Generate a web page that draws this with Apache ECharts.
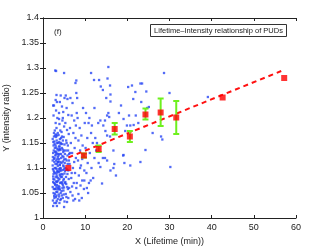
<!DOCTYPE html>
<html><head><meta charset="utf-8">
<script src="https://cdn.jsdelivr.net/npm/echarts@6/dist/echarts.min.js"></script>
<style>html,body{margin:0;padding:0;background:#fff}#c{width:327px;height:246px}</style>
</head><body><div id="c"></div>
<script>
var xTicks = [0,10,20,30,40,50,60];
var yTicks = [1,1.05,1.1,1.15,1.2,1.25,1.3,1.35,1.4];
var scatterPts = [
[2.4,1.024],[2.5,1.05],[2.3,1.062],[2.6,1.07],[2.4,1.083],[2.5,1.095],[2.3,1.105],[2.6,1.118],[2.4,1.13],[2.5,1.145],[2.3,1.158],[2.6,1.17],[2.4,1.225],[2.7,1.04],[2.8,1.058],[2.7,1.077],[2.9,1.09],[2.8,1.1],[2.7,1.112],[2.9,1.125],[2.8,1.14],[2.7,1.153],[2.9,1.165],[2.8,1.175],[2.9,1.295],[2.6,1.225],[2.5,1.205],[2.7,1.03],[2.9,1.066],[2.5,1.088],[2.3,1.115],[2.8,1.048],[2.6,1.163],[2.4,1.072],
[3.1,1.294],[3.2,1.246],[3.0,1.236],[3.3,1.232],[3.1,1.215],[3.4,1.2],[3.0,1.19],[3.2,1.18],[3.5,1.17],[3.1,1.162],[3.3,1.15],[3.0,1.145],[3.4,1.138],[3.2,1.13],[3.5,1.122],[3.1,1.115],[3.3,1.108],[3.0,1.1],[3.4,1.094],[3.2,1.087],[3.5,1.08],[3.1,1.073],[3.3,1.066],[3.0,1.058],[3.4,1.052],[3.2,1.045],[3.5,1.038],[3.1,1.03],[3.3,1.024],[3.6,1.112],[3.6,1.06],[3.6,1.15],[3.2,1.098],[3.4,1.118],[3.0,1.082],[3.3,1.091],[3.5,1.104],[3.1,1.127],[3.4,1.073],[3.2,1.062],
[3.8,1.21],[3.9,1.188],[4.1,1.175],[3.7,1.166],[4.0,1.158],[4.2,1.15],[3.8,1.143],[4.1,1.136],[3.9,1.128],[4.3,1.12],[3.7,1.113],[4.0,1.106],[4.2,1.099],[3.8,1.092],[4.1,1.085],[3.9,1.078],[4.3,1.071],[3.7,1.064],[4.0,1.057],[4.2,1.05],[3.8,1.043],[4.1,1.036],[3.9,1.03],[4.0,1.232],[4.2,1.245],[3.8,1.198],[4.3,1.16],[3.7,1.125],[4.1,1.1],[3.9,1.062],[4.2,1.082],[3.8,1.118],[4.0,1.138],[4.3,1.095],
[4.5,1.223],[4.8,1.212],[4.6,1.195],[5.0,1.183],[4.4,1.172],[4.9,1.162],[4.7,1.155],[5.1,1.147],[4.5,1.14],[4.8,1.132],[4.6,1.124],[5.0,1.117],[4.4,1.11],[4.9,1.103],[4.7,1.096],[5.1,1.089],[4.5,1.082],[4.8,1.075],[4.6,1.068],[5.0,1.061],[4.4,1.054],[4.9,1.047],[4.7,1.04],[5.1,1.033],[5.0,1.022],[5.0,1.29],[4.6,1.06],[4.8,1.105],[5.2,1.128],[4.4,1.088],[4.5,1.163],[5.2,1.07],[4.7,1.2],[5.1,1.24],
[5.4,1.245],[5.8,1.238],[5.6,1.22],[6.0,1.206],[5.3,1.19],[5.7,1.176],[6.1,1.168],[5.5,1.155],[5.9,1.145],[5.4,1.135],[6.2,1.128],[5.6,1.115],[5.3,1.1],[5.8,1.088],[6.1,1.078],[5.5,1.068],[5.9,1.058],[5.4,1.048],[6.0,1.04],[5.7,1.032],[5.6,1.15],[6.2,1.06],[5.3,1.072],[5.8,1.125],[6.0,1.095],
[6.5,1.24],[7.0,1.23],[6.8,1.205],[7.4,1.195],[6.4,1.18],[7.2,1.17],[7.7,1.16],[6.6,1.15],[7.5,1.14],[6.9,1.13],[7.8,1.12],[6.3,1.108],[7.1,1.1],[7.6,1.09],[6.7,1.08],[7.3,1.07],[7.9,1.06],[6.5,1.052],[7.0,1.045],[7.6,1.038],[6.8,1.09],[7.4,1.112],[7.9,1.275],[7.7,1.27],[7.9,1.25],[6.9,1.063],[7.2,1.035],[6.4,1.13],[7.8,1.185],[8.0,1.21],
[8.2,1.2],[8.7,1.18],[9.1,1.165],[8.4,1.155],[9.4,1.145],[8.8,1.135],[9.6,1.125],[8.3,1.115],[9.0,1.105],[9.8,1.095],[8.5,1.085],[9.3,1.075],[8.9,1.065],[9.7,1.058],[8.4,1.048],[9.2,1.04],[8.6,1.035],[9.5,1.22],[8.1,1.24],[9.9,1.19],[8.8,1.1],[9.3,1.118],[8.0,1.07],[9.8,1.075],
[10.2,1.21],[10.8,1.19],[11.4,1.17],[10.5,1.16],[11.8,1.15],[10.1,1.14],[11.1,1.13],[12.2,1.12],[10.6,1.11],[11.5,1.1],[10.3,1.09],[11.9,1.08],[10.9,1.07],[11.3,1.075],[10.4,1.06],[11.4,1.29],[12.1,1.276],[12.2,1.22],[11.0,1.2],[12.4,1.16],[10.7,1.05],[11.6,1.185],
[13.3,1.276],[13.7,1.263],[14.2,1.256],[15.0,1.24],[15.3,1.279],[15.5,1.302],[16.0,1.247],[16.0,1.233],[15.9,1.265],[18.5,1.225],[15.5,1.21],[15.2,1.205],[15.7,1.202],[13.6,1.195],[14.7,1.195],[19.1,1.198],[19.9,1.185],[14.8,1.174],[19.5,1.174],[15.2,1.165],[15.9,1.163],[16.7,1.135],[19.1,1.126],[14.2,1.12],[14.7,1.12],[15.2,1.115],[19.3,1.11],[13.6,1.102],[16.7,1.10],[17.3,1.085],[16.0,1.095],[16.9,1.108],[14.0,1.069],[13.2,1.11],[19.0,1.125],[12.8,1.15],[13.1,1.19],[12.6,1.135],[14.3,1.185],[18.0,1.21],
[20.4,1.205],[22.0,1.205],[20.7,1.185],[21.5,1.186],[22.6,1.19],[20.2,1.262],[21.1,1.265],[21.9,1.252],[21.4,1.238],[23.1,1.269],[23.5,1.269],[23.3,1.232],[24.7,1.22],[24.5,1.253],[25.1,1.222],[28.7,1.29],[30.0,1.25],[28.3,1.157],[30.2,1.102],[23.1,1.112],[20.7,1.105],[24.3,1.136],[39.1,1.242],[28.0,1.163],[26.0,1.17],
[2.35,1.035],[2.55,1.058],[2.45,1.078],[2.65,1.092],[2.35,1.122],[2.55,1.135],[2.75,1.148],[2.45,1.152],[2.85,1.068],[2.95,1.108],[2.65,1.044],[2.75,1.12],[2.85,1.132],[2.35,1.098],
[3.05,1.042],[3.15,1.052],[3.25,1.072],[3.35,1.083],[3.45,1.112],[3.55,1.128],[3.05,1.133],[3.15,1.141],[3.25,1.155],[3.35,1.165],[3.45,1.057],[3.55,1.093],[3.65,1.075],[3.65,1.135],[3.05,1.167],[3.25,1.034],
[3.75,1.047],[3.85,1.058],[3.95,1.087],[4.05,1.095],[4.15,1.112],[4.25,1.128],[3.75,1.137],[3.85,1.152],[3.95,1.143],[4.05,1.07],[4.15,1.148],[4.25,1.038],[3.75,1.098],[3.95,1.107],
[4.45,1.045],[4.55,1.071],[4.65,1.087],[4.75,1.113],[4.85,1.122],[4.95,1.135],[4.55,1.148],[4.65,1.137],[4.75,1.065],[4.85,1.055],[5.05,1.098],[5.15,1.11],[4.95,1.078],[5.25,1.094],
[5.45,1.082],[5.65,1.097],[5.85,1.108],[5.35,1.118],[5.55,1.042],[5.75,1.062],[5.95,1.135],[6.15,1.115]
];
var meanX = [6.0, 9.7, 13.2, 17.0, 20.6, 24.3, 27.9, 31.6, 42.6, 57.2];
var meanY = [1.100, 1.125, 1.138, 1.178, 1.163, 1.207, 1.211, 1.201, 1.241, 1.280];
var errX = [9.7, 13.2, 17.0, 20.6, 24.3, 27.9, 31.6];
var errLow = [1.121, 1.132, 1.167, 1.152, 1.197, 1.184, 1.168];
var errHigh = [1.129, 1.145, 1.190, 1.174, 1.219, 1.239, 1.234];
var fitX = [6.0, 56.5];
var fitY = [1.121, 1.294];

var chart = echarts.init(document.getElementById('c'));
var F = 'Liberation Sans, Arial, sans-serif';
var axisCommon = {
  min: 0, max: 60, interval: 10,
  axisLine: {lineStyle: {color: '#222', width: 1}},
  axisTick: {inside: true, length: 3, lineStyle: {color: '#222'}},
  splitLine: {show: false}
};
chart.setOption({
  animation: false,
  grid: {left: 43, right: 31, top: 18, bottom: 28, containLabel: false, outerBoundsMode: 'none'},
  xAxis: [
    Object.assign({type: 'value', position: 'bottom',
      axisLabel: {fontSize: 9, color: '#222', fontFamily: F, margin: 5},
      name: 'X (Lifetime (min))', nameLocation: 'middle', nameGap: 15,
      nameTextStyle: {fontSize: 9, color: '#222', fontFamily: F}}, axisCommon),
    Object.assign({type: 'value', position: 'top', axisLabel: {show: false}}, axisCommon)
  ],
  yAxis: [
    {type: 'value', min: 1, max: 1.4, interval: 0.05, position: 'left',
      axisLine: {show: true, lineStyle: {color: '#222'}},
      axisTick: {show: true, inside: true, length: 3, lineStyle: {color: '#222'}},
      splitLine: {show: false},
      axisLabel: {fontSize: 9, color: '#222', fontFamily: F, margin: 4},
      name: 'Y (intensity ratio)', nameLocation: 'middle', nameGap: 29,
      nameTextStyle: {fontSize: 9, color: '#222', fontFamily: F}},
    {type: 'value', min: 1, max: 1.4, interval: 0.05, position: 'right',
      axisLine: {show: true, lineStyle: {color: '#222'}},
      axisTick: {show: true, inside: true, length: 3, lineStyle: {color: '#222'}},
      splitLine: {show: false}, axisLabel: {show: false}}
  ],
  series: [
    {type: 'scatter', xAxisIndex: 0, yAxisIndex: 0, data: scatterPts,
      symbol: 'rect', symbolSize: 2.3, itemStyle: {color: '#2846f5'}, silent: true},
    {type: 'line', data: fitX.map(function(x,i){return [x, fitY[i]];}),
      symbol: 'none', lineStyle: {color: '#ff1010', width: 2, type: [5,4]}, z: 3},
    {type: 'custom', data: errX.map(function(x,i){return [x, errLow[i], errHigh[i]];}), z: 4,
      renderItem: function(params, api){
        var lo = api.coord([api.value(0), api.value(1)]);
        var hi = api.coord([api.value(0), api.value(2)]);
        var w = 3;
        var st = {stroke: '#6ef01e', lineWidth: 2};
        return {type: 'group', children: [
          {type: 'line', shape: {x1: lo[0], y1: lo[1], x2: hi[0], y2: hi[1]}, style: st},
          {type: 'line', shape: {x1: lo[0]-w, y1: lo[1], x2: lo[0]+w, y2: lo[1]}, style: st},
          {type: 'line', shape: {x1: hi[0]-w, y1: hi[1], x2: hi[0]+w, y2: hi[1]}, style: st}
        ]};
      }},
    {type: 'scatter', data: meanX.map(function(x,i){return [x, meanY[i]];}),
      symbol: 'rect', symbolSize: 6, itemStyle: {color: '#ff0000'}, z: 5}
  ],
  graphic: [
    {type: 'rect', shape: {x: 150.5, y: 24.5, width: 136, height: 12},
      style: {fill: '#fff', stroke: '#333', lineWidth: 1}},
    {type: 'text', x: 218.5, y: 30.5, style: {text: 'Lifetime\u2013Intensity relationship of PUDs',
      fontSize: 7.5, fontFamily: F, fill: '#222', align: 'center', verticalAlign: 'middle'}},
    {type: 'text', x: 54, y: 31.5, style: {text: '(f)', fontSize: 8, fontFamily: F, fill: '#222', verticalAlign: 'middle'}}
  ]
});
</script></body></html>
